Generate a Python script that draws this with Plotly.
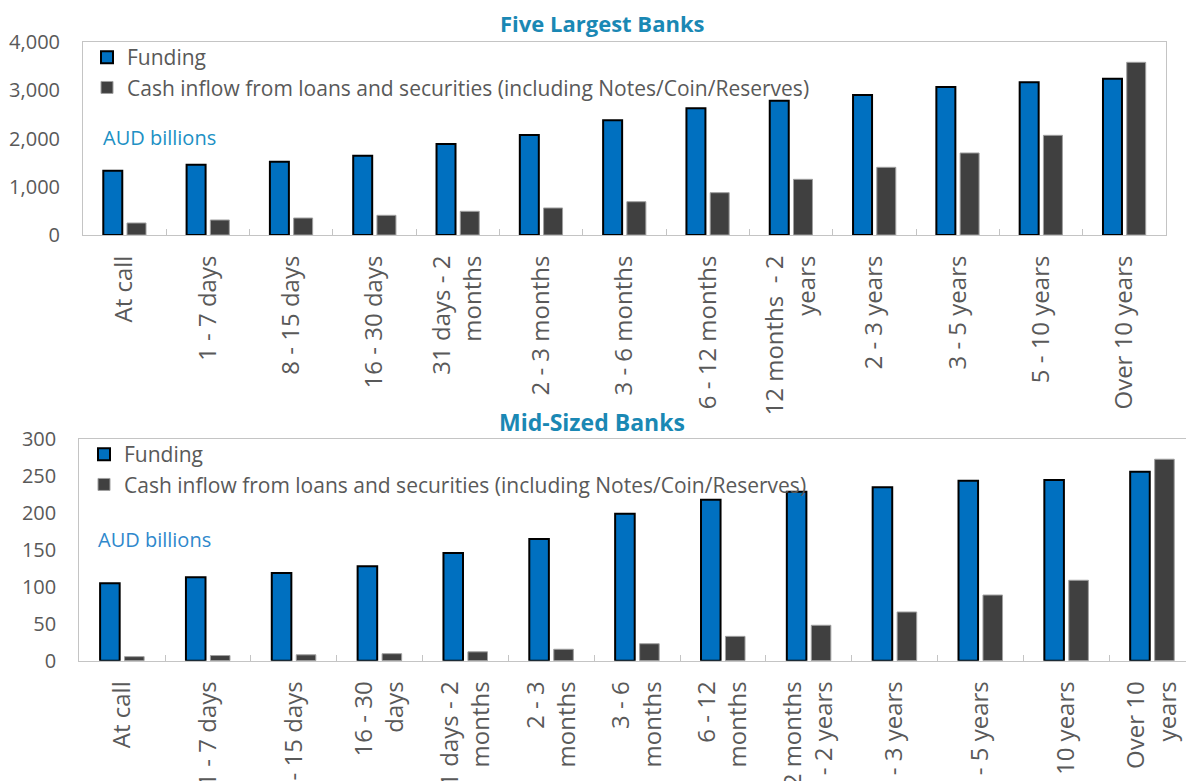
import plotly.graph_objects as go

# ---------------- data ----------------
categories_top = ["At call", "1 - 7 days", "8 - 15 days", "16 - 30 days",
                  "31 days - 2<br>months", "2 - 3 months", "3 - 6 months",
                  "6 - 12 months", "12 months\u00a0 - 2<br>years", "2 - 3 years",
                  "3 - 5 years", "5 - 10 years", "Over 10 years"]
categories_mid = ["At call", "1 - 7 days", "8 - 15 days", "16 - 30<br>days",
                  "31 days - 2<br>months", "2 - 3<br>months", "3 - 6<br>months",
                  "6 - 12<br>months", "12 months<br>- 2 years", "2 - 3 years",
                  "3 - 5 years", "5 - 10 years", "Over 10<br>years"]

top_funding = [1333, 1457, 1519, 1643, 1886, 2073, 2377, 2626, 2783, 2902, 3067, 3165, 3240]
top_inflow = [249, 311, 352, 408, 491, 560, 690, 877, 1154, 1403, 1700, 2066, 3579]
mid_funding = [105, 113, 119, 128, 146, 165, 199, 218, 229, 235, 244, 245, 256]
mid_inflow = [5.5, 7, 8, 9.5, 12, 15.5, 23, 33, 48, 66, 89, 109, 273]

series_names = ["Funding",
                "Cash inflow from loans and securities (including Notes/Coin/Reserves)"]
titles = ["Five Largest Banks", "Mid-Sized Banks"]
unit_label = "AUD billions"

# ---------------- layout helpers ----------------
W, H = 1186, 781
OFF = 0                   # body margin removed by post_script


def px(x):
    return (x - OFF) / W


def py(y):
    return 1 - (y - OFF) / H


FONT = "Open Sans"
GREY = "#595959"
AXIS = "#C4C4C4"
BLUE = "#0070C0"
DARK = "#404040"

fig = go.Figure()

fig.add_trace(go.Bar(x=categories_top, y=top_funding, name=series_names[0],
                     marker=dict(color=BLUE, line=dict(color="#000000", width=2)),
                     xaxis="x", yaxis="y", legend="legend"))
fig.add_trace(go.Bar(x=categories_top, y=top_inflow, name=series_names[1],
                     marker=dict(color=DARK, line=dict(color="#A0A0A0", width=1)),
                     xaxis="x", yaxis="y", legend="legend"))
fig.add_trace(go.Bar(x=categories_mid, y=mid_funding, name=series_names[0],
                     marker=dict(color=BLUE, line=dict(color="#000000", width=2)),
                     xaxis="x2", yaxis="y2", legend="legend2"))
fig.add_trace(go.Bar(x=categories_mid, y=mid_inflow, name=series_names[1],
                     marker=dict(color=DARK, line=dict(color="#A0A0A0", width=1)),
                     xaxis="x2", yaxis="y2", legend="legend2"))

xcommon = dict(type="category", showline=True, linecolor=AXIS, linewidth=1, mirror=True,
               ticks="inside", tickson="boundaries", ticklen=6, tickcolor=AXIS,
               tickangle=-90, tickfont=dict(family=FONT, size=24, color=GREY),
               showgrid=False, zeroline=False, ticklabelstandoff=10, automargin=False)
ycommon = dict(showline=True, linecolor=AXIS, linewidth=1, mirror=True, ticks="",
               showgrid=False, zeroline=False, tickformat=",", automargin=False,
               tickfont=dict(family=FONT, size=20, color=GREY), ticklabelstandoff=18)

# bottom chart is cut at the right edge of the picture
cat_w_mid = 85.84
mid_left = 79.2
mid_range_end = -0.5 + (W - mid_left) / cat_w_mid

fig.update_layout(
    width=W, height=H,
    margin=dict(l=0, r=0, t=0, b=0, autoexpand=False),
    paper_bgcolor="white", plot_bgcolor="white",
    barmode="group", bargap=0.43, bargroupgap=0.2,
    font=dict(family=FONT, color=GREY),
    xaxis=dict(domain=[px(83), px(1166)], anchor="y", range=[-0.5, 12.5], **xcommon),
    yaxis=dict(domain=[py(235), py(42)], anchor="x", range=[0, 4000], dtick=1000, **ycommon),
    xaxis2=dict(domain=[px(mid_left), 1.0], anchor="y2", range=[-0.5, mid_range_end], **xcommon),
    yaxis2=dict(domain=[py(660.7), py(439.3)], anchor="x2", range=[0, 300], dtick=50, **ycommon),
    legend=dict(x=px(127 - 40), y=py(37), xanchor="left", yanchor="top",
                bgcolor="rgba(0,0,0,0)", traceorder="normal",
                font=dict(family=FONT, size=21, color=GREY)),
    legend2=dict(x=px(124 - 40), y=py(434), xanchor="left", yanchor="top",
                 bgcolor="rgba(0,0,0,0)", traceorder="normal",
                 font=dict(family=FONT, size=21, color=GREY)),
    annotations=[
        dict(text="<b>" + titles[0] + "</b>", x=px(602), y=py(23), xref="paper", yref="paper",
             xanchor="center", yanchor="middle", showarrow=False,
             font=dict(family=FONT, size=22, color="#1A88B4")),
        dict(text="<b>" + titles[1] + "</b>", x=px(592), y=py(422), xref="paper", yref="paper",
             xanchor="center", yanchor="middle", showarrow=False,
             font=dict(family=FONT, size=23, color="#1A88B4")),
        dict(text=unit_label, x=px(101), y=py(138), xref="paper", yref="paper",
             xanchor="left", yanchor="middle", showarrow=False,
             font=dict(family=FONT, size=20, color="#2090C4")),
        dict(text=unit_label, x=px(96), y=py(539), xref="paper", yref="paper",
             xanchor="left", yanchor="middle", showarrow=False,
             font=dict(family=FONT, size=20, color="#2F88CC")),
    ],
)

fig.write_html("out.html", config={"displayModeBar": False},
               post_script="document.body.style.margin='0';document.body.style.overflow='hidden';")
